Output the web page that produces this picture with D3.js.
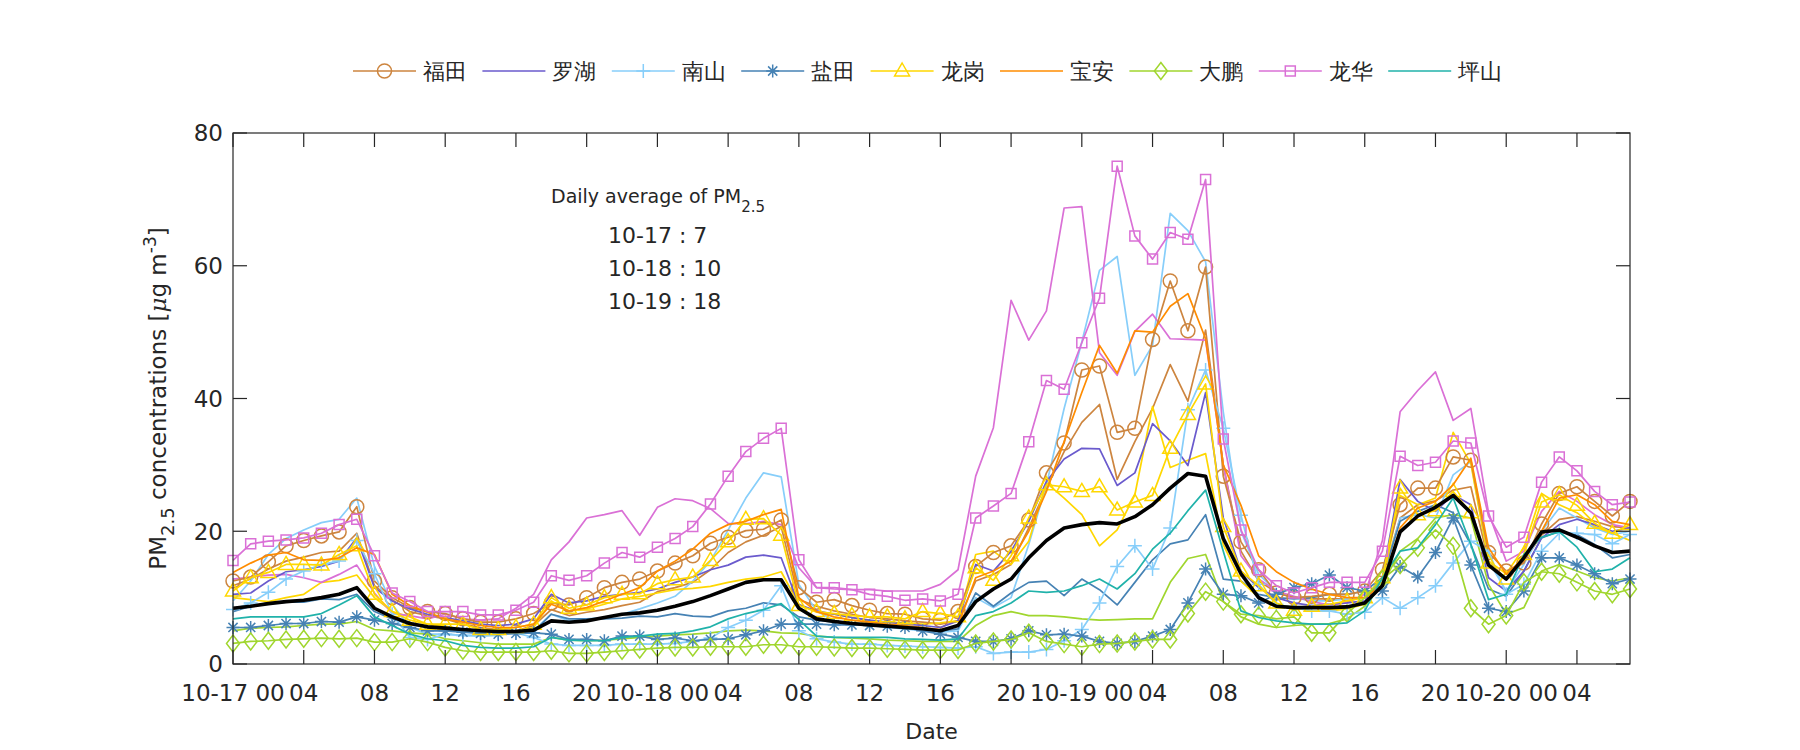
<!DOCTYPE html>
<html><head><meta charset="utf-8">
<script src="https://cdn.jsdelivr.net/npm/d3@7"></script>
<style>
html,body{margin:0;padding:0;background:#fff;}
svg{display:block;}
text{font-family:"DejaVu Sans",Verdana,sans-serif;fill:#262626;}
</style></head><body>
<svg id="chart" width="1800" height="750"></svg>
<script>
// ---------------- DATA (hourly, 10-17 00:00 .. 10-20 07:00) ----------------
const hours = d3.range(80);
const tickHours  = [0,4,8,12,16,20,24,28,32,36,40,44,48,52,56,60,64,68,72,76];
const tickLabels = ["10-17 00","04","08","12","16","20","10-18 00","04","08","12","16","20","10-19 00","04","08","12","16","20","10-20 00","04"];
const yTicks = [0,20,40,60,80];
const districts = ["福田","罗湖","南山","盐田","龙岗","宝安","大鹏","龙华","坪山"];
const annotationLines = ["10-17 : 7","10-18 : 10","10-19 : 18"];

const futian = [12.5,13.1,15.4,17.8,18.6,19.3,19.9,23.7,12.5,10.0,8.5,7.9,
  7.6,6.8,6.3,6.3,6.8,7.6,9.2,8.9,10.0,11.5,12.3,12.8,
  14.0,15.2,16.3,18.2,19.1,20.1,20.3,21.7,11.5,9.3,9.7,8.8,
  8.1,7.6,7.5,6.8,6.6,7.9,14.7,16.8,17.8,21.7,28.8,33.3,
  44.3,44.9,34.9,35.5,48.9,57.7,50.2,59.8,28.3,18.4,14.2,10.7,
  10.0,10.2,10.5,10.5,11.0,14.2,24.0,26.5,26.5,31.2,30.7,16.8,
  14.0,15.2,21.1,25.7,26.7,24.5,22.3,24.5];
const luohu = [10.5,10.7,12.5,13.9,14.2,14.7,15.5,19.0,11.5,9.5,8.3,7.5,
  7.0,6.5,6.0,5.8,6.0,6.8,10.5,9.2,9.5,10.2,10.5,10.8,
  11.3,12.3,13.1,14.2,14.9,16.1,16.4,16.0,8.9,8.0,7.5,7.0,
  6.6,6.3,6.0,5.8,5.5,6.5,15.0,14.0,17.0,21.5,27.5,30.9,
  32.5,32.4,26.9,28.8,36.2,33.6,29.9,40.9,22.0,14.0,11.5,10.0,
  9.2,8.8,9.0,9.2,9.5,13.0,27.8,24.5,23.0,25.5,24.0,13.0,
  11.0,14.0,19.0,21.0,21.8,21.0,20.0,20.5];
const nanshan = [8.2,9.2,10.8,12.8,14.0,15.0,15.5,18.6,13.6,7.5,4.0,3.7,
  4.5,4.3,4.3,4.5,4.7,4.0,3.0,2.8,2.8,2.8,3.0,3.0,
  3.0,3.1,3.4,3.9,5.5,6.6,8.1,11.8,5.0,3.8,3.3,3.0,
  3.0,2.8,2.7,2.6,2.5,2.4,2.6,1.6,1.8,1.8,2.2,3.5,
  5.2,9.2,14.7,17.8,14.3,20.5,38.3,44.3,35.5,22.4,12.0,9.0,
  8.5,8.0,8.0,7.5,7.8,10.0,8.4,10.0,11.8,15.2,18.5,17.0,
  10.5,12.0,17.0,19.7,19.7,19.5,18.1,19.5];
const yantian = [5.5,5.5,5.8,6.1,6.1,6.4,6.3,7.1,6.6,6.1,5.5,5.0,
  5.0,4.8,4.6,4.5,4.6,4.7,4.5,3.7,3.7,3.5,4.2,4.2,
  3.7,3.9,3.5,3.7,3.8,4.4,5.0,6.0,6.0,6.0,5.9,5.9,
  5.8,5.7,5.5,5.0,4.5,4.0,3.4,3.4,3.8,5.0,4.4,4.5,
  4.2,3.4,3.1,3.4,4.2,5.2,9.2,14.3,10.5,10.3,9.2,10.5,
  11.5,12.1,13.4,11.5,11.0,11.0,14.7,13.1,16.8,22.0,14.9,8.4,
  7.9,11.0,16.0,16.0,14.9,13.6,12.1,12.8];
const longgang = [11.0,13.0,13.8,15.0,15.0,14.9,16.5,17.8,10.5,7.9,6.6,6.0,
  6.0,6.0,5.2,5.2,5.5,6.0,10.0,8.4,8.9,10.0,10.5,10.6,
  12.1,12.7,13.1,15.6,18.4,21.8,21.9,19.4,8.8,7.9,7.6,7.3,
  7.1,7.1,6.8,7.9,7.6,7.1,14.5,12.6,16.3,22.0,27.0,26.7,
  26.0,26.7,23.2,24.4,25.4,32.5,37.6,42.2,20.7,14.0,11.8,9.2,
  8.1,8.7,9.0,9.5,10.0,13.0,26.5,22.5,23.1,26.0,22.8,15.2,
  12.8,16.5,24.4,25.5,23.9,21.2,19.7,21.0];
const baoan = [13.8,15.2,16.4,16.8,15.7,15.6,16.0,17.5,16.5,10.5,8.8,7.8,
  6.8,6.3,5.8,5.5,5.5,6.0,9.0,8.0,8.5,9.5,10.5,11.5,
  14.0,15.5,17.3,19.7,21.0,21.5,22.5,23.3,10.0,7.9,7.1,6.6,
  6.3,6.0,5.8,5.5,5.2,5.8,13.0,14.0,15.5,20.0,26.0,33.5,
  40.9,48.0,43.8,50.2,50.0,53.9,55.8,49.0,30.0,23.9,16.3,13.9,
  12.3,11.3,10.5,10.0,10.0,12.0,20.5,23.5,24.5,27.0,31.0,17.5,
  13.5,16.0,20.0,25.0,25.5,24.0,21.5,21.0];
const dapeng = [3.1,3.4,3.5,3.7,3.8,3.9,3.8,3.9,3.3,3.3,3.8,3.3,
  2.5,2.0,1.8,1.8,1.8,1.8,2.0,1.6,1.6,1.8,2.0,2.2,
  2.4,2.5,2.5,2.6,2.6,2.6,2.9,2.9,2.6,2.6,2.5,2.4,
  2.4,2.3,2.2,2.1,2.1,2.1,3.1,3.4,3.7,4.7,3.4,3.0,
  2.6,3.0,3.1,3.4,3.7,3.7,7.6,10.9,9.4,7.5,7.3,6.8,
  7.1,4.7,4.7,7.6,10.0,12.8,14.9,17.5,20.2,17.8,8.4,6.0,
  7.3,12.3,13.9,13.6,12.3,11.0,10.5,11.3];
const longhua = [15.6,18.1,18.5,18.7,19.0,19.7,21.0,21.8,16.3,10.7,9.4,7.9,
  7.9,7.9,7.4,7.4,8.1,9.3,13.3,12.6,13.3,15.2,16.8,16.1,
  17.6,18.9,20.7,24.1,28.3,32.0,34.0,35.5,15.7,11.5,11.5,11.2,
  10.5,10.2,9.6,9.8,9.5,10.5,22.0,23.8,25.7,33.5,42.7,41.4,
  48.4,55.1,75.0,64.5,61.0,65.0,64.0,73.0,33.9,20.2,14.2,11.8,
  10.7,11.5,12.3,12.3,12.3,17.0,31.3,29.9,30.4,33.6,33.3,22.3,
  17.6,19.1,27.4,31.2,29.1,26.0,24.0,24.4];
const pingshan = [6.8,7.1,7.1,7.1,7.1,7.6,8.9,10.3,7.1,5.8,4.5,3.8,
  3.5,2.8,2.5,2.4,2.4,2.6,4.0,3.6,3.5,3.5,4.0,4.2,
  4.5,4.6,5.0,5.6,6.8,7.6,8.2,9.1,6.7,4.2,4.0,4.0,
  4.0,4.0,3.8,3.7,3.6,3.8,7.3,7.9,9.2,11.0,10.8,11.0,
  11.8,12.8,11.3,13.6,17.3,19.7,23.1,26.2,17.0,8.0,7.0,6.5,
  6.2,6.0,6.0,6.2,8.0,13.0,17.0,17.5,21.0,25.0,18.0,9.7,
  10.5,16.5,19.1,19.9,17.6,13.9,14.3,16.0];
// second stations (plain lines, not in legend)
const futian2 = [11.8,12.8,14.3,15.5,16.1,16.8,17.0,19.7,11.8,9.7,7.9,7.3,
  6.8,6.0,5.5,5.2,5.0,5.8,8.2,7.3,7.8,8.2,8.8,9.3,
  10.9,11.5,12.3,14.2,16.8,18.4,19.4,20.7,9.7,8.7,8.0,7.5,
  7.0,6.8,6.5,6.3,6.0,6.5,12.5,13.5,15.0,20.5,26.5,32.0,
  36.4,39.1,27.8,33.5,38.5,45.1,39.6,50.3,30.0,17.0,12.5,10.8,
  10.0,9.8,9.8,9.8,10.0,13.0,22.0,24.0,24.6,26.2,26.7,15.5,
  12.8,15.5,19.4,21.8,22.2,21.5,20.7,20.5];
const nanshan2 = [9.5,12.5,16.5,18.9,20.2,21.3,21.8,25.0,14.7,9.0,5.5,4.5,
  4.5,4.3,4.2,4.3,4.8,5.0,7.5,6.5,6.8,7.0,7.5,8.3,
  9.2,10.2,12.5,15.5,20.2,25.0,28.8,28.2,12.0,8.0,6.5,6.0,
  5.8,5.5,5.3,5.0,4.8,5.0,10.0,8.5,10.0,18.0,27.0,38.5,
  48.5,59.3,61.4,43.5,48.0,67.9,65.3,60.6,38.0,20.0,13.5,11.0,
  10.0,9.5,9.5,9.8,10.0,12.5,22.0,22.5,22.0,28.5,30.5,15.5,
  11.0,15.0,20.0,23.5,22.0,20.5,19.5,20.0];
const yantian2 = [7.9,8.7,9.2,9.3,9.3,9.8,9.7,10.5,7.9,6.8,6.0,5.5,
  5.2,5.0,4.8,4.6,4.6,4.8,7.5,6.8,6.8,6.8,6.9,7.2,
  7.1,7.6,7.2,7.1,8.0,8.4,9.2,8.9,7.1,6.6,6.3,6.0,
  5.8,5.6,5.4,5.2,5.0,5.3,10.7,8.7,10.7,12.3,12.5,10.3,
  12.8,11.2,8.9,12.3,15.7,18.1,18.7,22.5,12.8,12.5,10.5,10.0,
  9.8,10.0,10.5,10.5,11.0,13.0,21.5,23.0,24.0,22.8,18.0,11.3,
  10.2,14.0,19.0,20.0,19.5,18.0,16.0,16.5];
const longgang2 = [10.0,9.7,9.4,10.0,10.5,12.3,12.6,13.4,10.0,7.9,7.1,6.0,
  5.7,5.2,4.9,4.8,5.0,5.5,9.5,8.0,8.3,9.0,9.8,10.2,
  10.7,11.2,11.4,11.7,12.3,12.8,13.1,13.9,9.0,7.8,7.5,7.0,
  6.5,6.3,6.2,6.0,6.2,6.5,16.5,17.0,15.0,18.5,27.3,25.0,
  22.5,17.8,20.2,25.5,38.8,29.6,30.7,31.7,18.0,12.5,10.0,9.0,
  8.5,8.0,8.0,8.3,9.0,12.0,25.4,24.0,25.0,34.9,30.2,15.5,
  13.6,17.5,25.7,24.0,22.8,20.7,19.7,18.6];
const dapeng2 = [5.0,5.4,5.5,5.6,5.8,6.0,6.0,6.4,5.2,5.0,4.7,4.5,
  3.8,3.5,3.2,3.0,3.0,3.0,4.0,3.6,3.5,3.6,3.8,4.0,
  4.2,4.4,4.5,4.7,5.0,5.1,5.0,4.7,4.6,4.2,4.0,3.9,
  3.8,3.6,3.5,3.4,3.4,3.4,5.8,7.3,7.9,7.3,7.3,7.1,
  6.8,6.6,6.7,6.8,6.8,12.3,15.9,16.5,9.4,7.1,6.0,5.5,
  5.8,6.0,6.1,6.8,8.7,12.0,17.0,18.9,22.0,22.5,22.0,12.0,
  7.5,8.5,14.0,15.0,14.0,13.0,12.5,13.0];
const longhua2 = [12.8,13.1,13.4,13.5,13.0,12.3,13.5,14.9,10.7,7.6,7.3,6.8,
  7.5,6.8,6.6,6.8,8.4,10.5,15.7,18.4,22.0,22.5,23.1,19.4,
  23.6,24.9,24.6,23.4,21.2,21.1,21.5,21.0,14.5,11.5,11.3,11.2,
  11.2,11.0,11.0,11.0,12.0,14.2,28.3,35.6,54.8,48.8,53.2,68.7,
  68.9,46.9,43.5,50.1,52.7,49.0,48.9,48.8,30.0,16.3,12.8,11.0,
  10.2,9.4,8.9,9.2,10.5,18.6,38.0,41.2,44.0,36.7,38.5,22.8,
  15.5,17.0,23.0,26.0,24.5,22.5,21.0,20.5];
const cityMean = [8.4,8.7,9.1,9.4,9.6,10.0,10.5,11.5,8.4,7.1,6.1,5.6,
  5.4,5.2,5.0,4.9,4.9,5.1,6.5,6.3,6.5,7.0,7.5,7.7,
  8.1,8.7,9.4,10.3,11.3,12.3,12.7,12.7,8.4,6.8,6.4,6.1,
  5.9,5.7,5.5,5.3,5.0,5.8,9.4,11.3,12.8,16.0,18.6,20.5,
  21.0,21.3,21.1,22.2,24.0,26.5,28.7,28.3,18.9,13.6,10.0,8.7,
  8.5,8.5,8.5,8.6,9.2,11.8,19.9,22.3,23.6,25.4,22.8,14.9,
  12.8,16.0,19.9,20.2,19.1,17.8,16.8,17.0];

// ---------------- STYLE ----------------
const colors = ["#CD853F","#6A5ACD","#87CEFA","#4682B4","#FFD700","#FF8C00","#A0D62E","#DA70D6","#20B2AA"];
const markers = ["circle","none","plus","star","triangle","none","diamond","square","none"];
const mainSeries = [futian,luohu,nanshan,yantian,longgang,baoan,dapeng,longhua,pingshan];
const extraSeries = [
  {values:futian2, color:colors[0]},
  {values:nanshan2, color:colors[2]},
  {values:yantian2, color:colors[3]},
  {values:longgang2, color:colors[4]},
  {values:dapeng2, color:colors[6]},
  {values:longhua2, color:colors[7]}
];

const svg = d3.select("#chart");
const L = 233, R = 1630, T = 133, B = 664;
const x = d3.scaleLinear().domain([0, 79]).range([L, R]);
const y = d3.scaleLinear().domain([0, 80]).range([B, T]);
const axisColor = "#262626";
const FS = 23;

function markerPath(type){
  switch(type){
    case "circle": return d3.symbol(d3.symbolCircle, Math.PI*7*7)();
    case "square": return "M-5,-5H5V5H-5Z";
    case "triangle": return "M0,-8L7.5,5L-7.5,5Z";
    case "diamond": return "M0,-8.5L6.5,0L0,8.5L-6.5,0Z";
    case "plus": return "M-7,0H7M0,-7V7";
    case "star": return "M-6.5,0H6.5M0,-6.5V6.5M-4.6,-4.6L4.6,4.6M-4.6,4.6L4.6,-4.6";
  }
  return null;
}

const line = d3.line().x((d,i)=>x(hours[i])).y(d=>y(d));
const plot = svg.append("g");

extraSeries.forEach(s=>{
  plot.append("path").attr("d", line(s.values)).attr("fill","none")
    .attr("stroke", s.color).attr("stroke-width",1.7).attr("stroke-linejoin","round");
});
mainSeries.forEach((vals,k)=>{
  plot.append("path").attr("d", line(vals)).attr("fill","none")
    .attr("stroke", colors[k]).attr("stroke-width",1.7).attr("stroke-linejoin","round");
  const p = markerPath(markers[k]);
  if(p){
    plot.append("g").selectAll("path").data(vals).join("path")
      .attr("d", p)
      .attr("transform",(d,i)=>`translate(${x(hours[i])},${y(d)})`)
      .attr("fill","none").attr("stroke",colors[k]).attr("stroke-width",1.5);
  }
});
plot.append("path").attr("d", line(cityMean)).attr("fill","none")
  .attr("stroke","#000").attr("stroke-width",3.6).attr("stroke-linejoin","round");

// ---------------- AXES ----------------
const ax = svg.append("g");
ax.append("rect").attr("x",L).attr("y",T).attr("width",R-L).attr("height",B-T)
  .attr("fill","none").attr("stroke",axisColor).attr("stroke-width",1.2);
const tl = 14;
tickHours.forEach((h,i)=>{
  const xx = x(h);
  ax.append("line").attr("x1",xx).attr("x2",xx).attr("y1",B).attr("y2",B-tl).attr("stroke",axisColor).attr("stroke-width",1.2);
  ax.append("line").attr("x1",xx).attr("x2",xx).attr("y1",T).attr("y2",T+tl).attr("stroke",axisColor).attr("stroke-width",1.2);
  ax.append("text").attr("x",xx).attr("y",701).attr("text-anchor","middle")
    .attr("font-size",FS).text(tickLabels[i]);
});
yTicks.forEach(v=>{
  const yy = y(v);
  ax.append("line").attr("x1",L).attr("x2",L+tl).attr("y1",yy).attr("y2",yy).attr("stroke",axisColor).attr("stroke-width",1.2);
  ax.append("line").attr("x1",R).attr("x2",R-tl).attr("y1",yy).attr("y2",yy).attr("stroke",axisColor).attr("stroke-width",1.2);
  ax.append("text").attr("x",L-10).attr("y",yy).attr("dy","0.36em").attr("text-anchor","end")
    .attr("font-size",FS).text(v);
});
svg.append("text").attr("x",(L+R)/2).attr("y",739).attr("text-anchor","middle")
  .attr("font-size",22).text("Date");
const yl = svg.append("text").attr("transform",`translate(166,${(T+B)/2}) rotate(-90)`)
  .attr("text-anchor","middle").attr("font-size",23);
yl.append("tspan").text("PM");
yl.append("tspan").attr("font-size",18).attr("dy",8).text("2.5");
yl.append("tspan").attr("dy",-8).text(" concentrations [");
yl.append("tspan").attr("font-style","italic").attr("font-family","'DejaVu Serif',serif").text("\u03BC");
yl.append("tspan").text("g m");
yl.append("tspan").attr("font-size",17).attr("dy",-10).text("-3");
yl.append("tspan").attr("dy",10).text("]");

// annotation
const an = svg.append("text").attr("x",551).attr("y",203).attr("font-size",19)
  .attr("font-family","'Liberation Sans',Arial,sans-serif");
an.append("tspan").text("Daily average of PM");
an.append("tspan").attr("font-size",15).attr("dy",9).text("2.5");
annotationLines.forEach((s,i)=>{
  svg.append("text").attr("x",608).attr("y",243+i*33).attr("font-size",22).text(s);
});

// legend
const lg = svg.append("g");
districts.forEach((name,k)=>{
  const x0 = 353 + k*129.4, yy = 71;
  lg.append("line").attr("x1",x0).attr("x2",x0+63).attr("y1",yy).attr("y2",yy)
    .attr("stroke",colors[k]).attr("stroke-width",1.7);
  const p = markerPath(markers[k]);
  if(p) lg.append("path").attr("d",p).attr("transform",`translate(${x0+31.5},${yy})`)
    .attr("fill","none").attr("stroke",colors[k]).attr("stroke-width",1.5);
  lg.append("text").attr("x",x0+70).attr("y",yy).attr("dy","0.36em")
    .attr("font-family","'Noto Sans CJK SC',sans-serif").attr("font-size",22).text(name);
});
</script></body></html>
